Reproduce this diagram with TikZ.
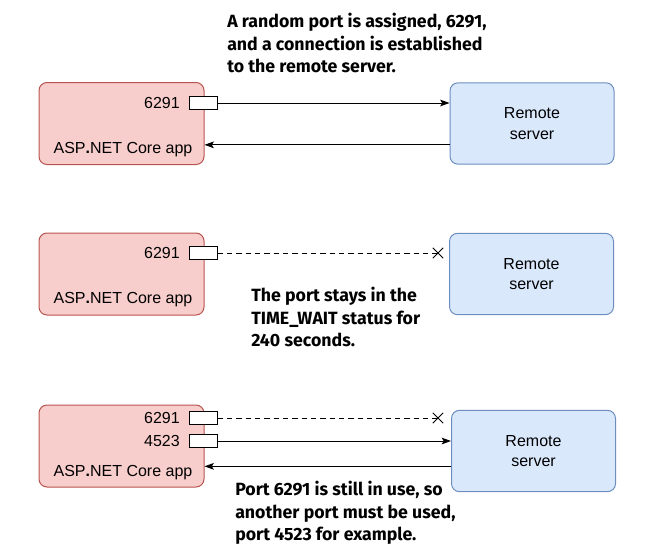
\documentclass[tikz,border=0pt]{standalone}
\usepackage{fontspec}
\setmainfont{Liberation Sans}
\newfontfamily\notefont{Fira Sans}
\usetikzlibrary{arrows.meta, positioning, shapes.misc}
\definecolor{appfond}{HTML}{F8CECC}
\definecolor{apptrait}{HTML}{B85450}
\definecolor{srvfond}{HTML}{DAE8FC}
\definecolor{srvtrait}{HTML}{6C8EBF}
\tikzset{
    appli/.style={draw=apptrait, fill=appfond, rounded corners=6pt, line width=0.75pt, minimum width=123.75pt, minimum height=61.5pt},
    serveur/.style={draw=srvtrait, fill=srvfond, rounded corners=6pt, line width=0.75pt, minimum width=123pt, minimum height=61pt, align=center, font=\fontsize{12}{15.5}\selectfont},
    port/.style={draw, fill=white, line width=0.75pt, minimum width=21pt, minimum height=9.5pt, inner sep=0pt},
    etiquette/.style={inner sep=0pt, font=\fontsize{12}{14}\selectfont},
    fleche/.style={-{Stealth[length=7pt, width=5pt, inset=1.5pt]}, line width=0.75pt},
    pointille/.style={dash pattern=on 4pt off 3pt, line width=0.75pt},
    croix/.style={cross out, draw, line width=0.75pt, minimum size=7pt, inner sep=0pt},
    note/.style={anchor=north west, inner sep=0pt, align=left, font=\notefont\bfseries\fontsize{13.3}{16.8}\selectfont},
}
\begin{document}
\begin{tikzpicture}[x=0.75pt, y=-0.75pt]
\useasboundingbox (0,0) rectangle (649,557);
% Etape 1 : connexion au serveur
\node[appli] (app1) at (121.5,123.5) {};
\node[etiquette] (nom1) at (123,150) {ASP\textbf{.}NET Core app};
\node[port] (port1) at (203,103) {};
\node[etiquette, anchor=east] (num1) at (180,103) {6291};
\node[serveur] (srv1) at (532,123.5) {Remote\\server};
\draw[fleche] (port1.east) -- (port1.east -| srv1.west);
\draw[fleche] ([yshift=-16pt]srv1.west) -- ([yshift=-16pt]srv1.west -| app1.east);
\node[note] (note1) at (227,13) {A random port is assigned, 6291,\\and a connection is established\\to the remote server.};

% Etape 2 : TIME_WAIT
\node[appli] (app2) at (121.5,274) {};
\node[etiquette] (nom2) at (123,300) {ASP\textbf{.}NET Core app};
\node[port] (port2) at (203,253) {};
\node[etiquette, anchor=east] (num2) at (180,253) {6291};
\node[serveur] (srv2) at (531.5,274) {Remote\\server};
\node[croix] (fin2) at (438,253) {};
\draw[pointille] (port2.east) -- (fin2.center);
\node[note] (note2) at (251,287) {The port stays in the\\TIME\_WAIT status for\\240 seconds.};

% Etape 3 : nouveau port
\node[appli] (app3) at (121.5,446) {};
\node[etiquette] (nom3) at (123,473) {ASP\textbf{.}NET Core app};
\node[port] (port3) at (203,418) {};
\node[etiquette, anchor=east] (num3) at (180,418) {6291};
\node[port] (port4) at (203,441) {};
\node[etiquette, anchor=east] (num4) at (180,441) {4523};
\node[serveur] (srv3) at (533.5,451) {Remote\\server};
\node[croix] (fin3) at (438,418) {};
\draw[pointille] (port3.east) -- (fin3.center);
\draw[fleche] (port4.east) -- (port4.east -| srv3.west);
\draw[fleche] ([yshift=-11.5pt]srv3.west) -- ([yshift=-11.5pt]srv3.west -| app3.east);
\node[note] (note3) at (235,481) {Port 6291 is still in use, so\\another port must be used,\\port 4523 for example.};
\end{tikzpicture}
\end{document}
